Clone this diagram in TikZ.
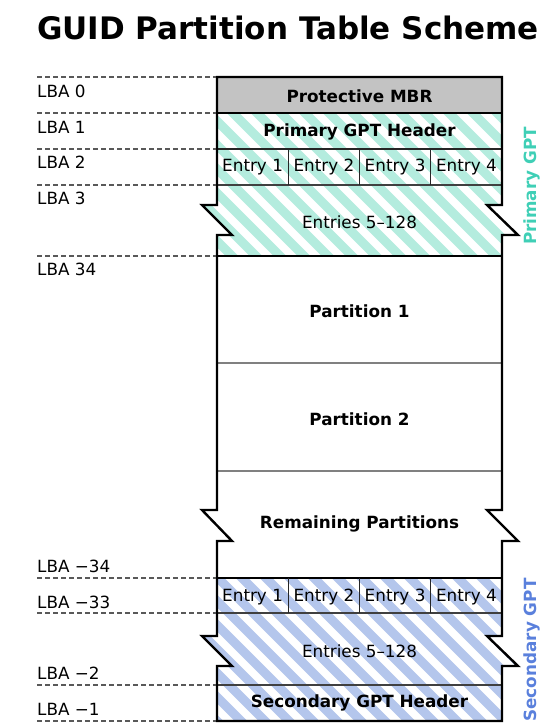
\documentclass[tikz,border=0pt]{standalone}
\usepackage{fontspec}
\setmainfont{DejaVu Sans}
\definecolor{tealstripe}{HTML}{B4ECDE}
\definecolor{bluestripe}{HTML}{B4C6EC}
\definecolor{teallabel}{HTML}{3FCFB6}
\definecolor{bluelabel}{HTML}{5A80DC}
\definecolor{mbrgray}{HTML}{C3C3C3}
\begin{document}
\begin{tikzpicture}[x=1pt,y=-1pt,
  lbl/.style={font=\fontsize{16.8}{19}\selectfont, inner sep=0pt},
  bld/.style={font=\fontsize{16.8}{19}\selectfont\bfseries, inner sep=0pt},
  sidelbl/.style={font=\fontsize{16.8}{19}\selectfont\bfseries, inner sep=0pt, rotate=90},
  dashln/.style={draw=black!65, line width=1.3pt, dash pattern=on 5pt off 3pt},
  outline/.style={draw=black, line width=2.4pt, line join=miter},
  thinsep/.style={draw=black!85, line width=1.2pt},
  medsep/.style={draw=black!75, line width=1.6pt},
  partsep/.style={draw=black!50, line width=2pt},
  thicksep/.style={draw=black, line width=2.2pt},
  ]
\useasboundingbox (0,0) rectangle (545,728);

% title
\node[anchor=base west, inner sep=0pt, font=\fontsize{31}{34}\selectfont\bfseries] (title) at (37,39) {GUID Partition Table Scheme};

% MBR
\fill[mbrgray] (217,77) rectangle (502,113);

% primary GPT region (hatched)
\begin{scope}
  \clip (217,113) -- (502,113) -- (502,205) -- (487,205) -- (518,235) -- (502,235) -- (502,256) -- (217,256) -- (217,235) -- (232,235) -- (202,205) -- (217,205) -- cycle;
  \fill[white] (190,100) rectangle (530,270);
  \foreach \c in {-96,-72,...,432} {
    \draw[tealstripe, line width=9pt] ({\c+90},90) -- ({\c+280},280);
  }
\end{scope}

% secondary GPT region (hatched)
\begin{scope}
  \clip (217,578) -- (502,578) -- (502,636) -- (487,636) -- (518,666) -- (502,666) -- (502,721) -- (217,721) -- (217,666) -- (232,666) -- (202,636) -- (217,636) -- cycle;
  \fill[white] (190,570) rectangle (530,730);
  \foreach \c in {-552,-528,...,-24} {
    \draw[bluestripe, line width=9pt] ({\c+560},560) -- ({\c+740},740);
  }
\end{scope}

% separators
\draw[thicksep] (217,113) -- (502,113);
\draw[thinsep] (217,149) -- (502,149);
\draw[medsep] (217,185) -- (502,185);
\draw[thicksep] (217,256) -- (502,256);
\draw[partsep] (217,363) -- (502,363);
\draw[partsep] (217,471) -- (502,471);
\draw[thicksep] (217,578) -- (502,578);
\draw[medsep] (217,613) -- (502,613);
\draw[medsep] (217,685) -- (502,685);
\foreach \x in {288.25,359.5,430.75} {
  \draw[thinsep] (\x,149) -- (\x,185);
  \draw[thinsep] (\x,578) -- (\x,613);
}

% outline
\draw[outline] (217,77) -- (502,77) -- (502,205) -- (487,205) -- (518,235) -- (502,235) -- (502,510) -- (487,510) -- (518,541) -- (502,541) -- (502,636) -- (487,636) -- (518,666) -- (502,666) -- (502,721) -- (217,721) -- (217,666) -- (232,666) -- (202,636) -- (217,636) -- (217,541) -- (232,541) -- (202,510) -- (217,510) -- (217,235) -- (232,235) -- (202,205) -- (217,205) -- cycle;

% dashed LBA lines
\foreach \y in {77,113,149,185,256,578,613,685,721} {
  \draw[dashln] (37,\y) -- (216,\y);
}

% LBA labels
\node[lbl, anchor=west] (l0) at (37,91) {LBA 0};
\node[lbl, anchor=west] (l1) at (37,127) {LBA 1};
\node[lbl, anchor=west] (l2) at (37,162) {LBA 2};
\node[lbl, anchor=west] (l3) at (37,198) {LBA 3};
\node[lbl, anchor=west] (l34) at (37,269) {LBA 34};
\node[lbl, anchor=west] (lm34) at (37,566) {LBA −34};
\node[lbl, anchor=west] (lm33) at (37,602) {LBA −33};
\node[lbl, anchor=west] (lm2) at (37,673) {LBA −2};
\node[lbl, anchor=west] (lm1) at (37,709) {LBA −1};

% box texts
\node[bld] (mbr) at (359.5,96) {Protective MBR};
\node[bld] (phdr) at (359.5,132) {Primary GPT Header};
\node[lbl] (pe1) at (252.6,167) {Entry 1};
\node[lbl] (pe2) at (323.9,167) {Entry 2};
\node[lbl] (pe3) at (395.1,167) {Entry 3};
\node[lbl] (pe4) at (466.4,167) {Entry 4};
\node[lbl] (pent) at (359.5,222) {Entries 5–128};
\node[bld] (p1) at (359.5,311) {Partition 1};
\node[bld] (p2) at (359.5,419) {Partition 2};
\node[bld] (prem) at (359.5,524) {Remaining Partitions};
\node[lbl] (se1) at (252.6,597) {Entry 1};
\node[lbl] (se2) at (323.9,597) {Entry 2};
\node[lbl] (se3) at (395.1,597) {Entry 3};
\node[lbl] (se4) at (466.4,597) {Entry 4};
\node[lbl] (sent) at (359.5,651) {Entries 5–128};
\node[bld] (shdr) at (359.5,703) {Secondary GPT Header};

% side labels
\node[sidelbl, text=teallabel] (pgpt) at (532,186) {Primary GPT};
\node[sidelbl, text=bluelabel] (sgpt) at (532,650) {Secondary GPT};
\end{tikzpicture}
\end{document}
